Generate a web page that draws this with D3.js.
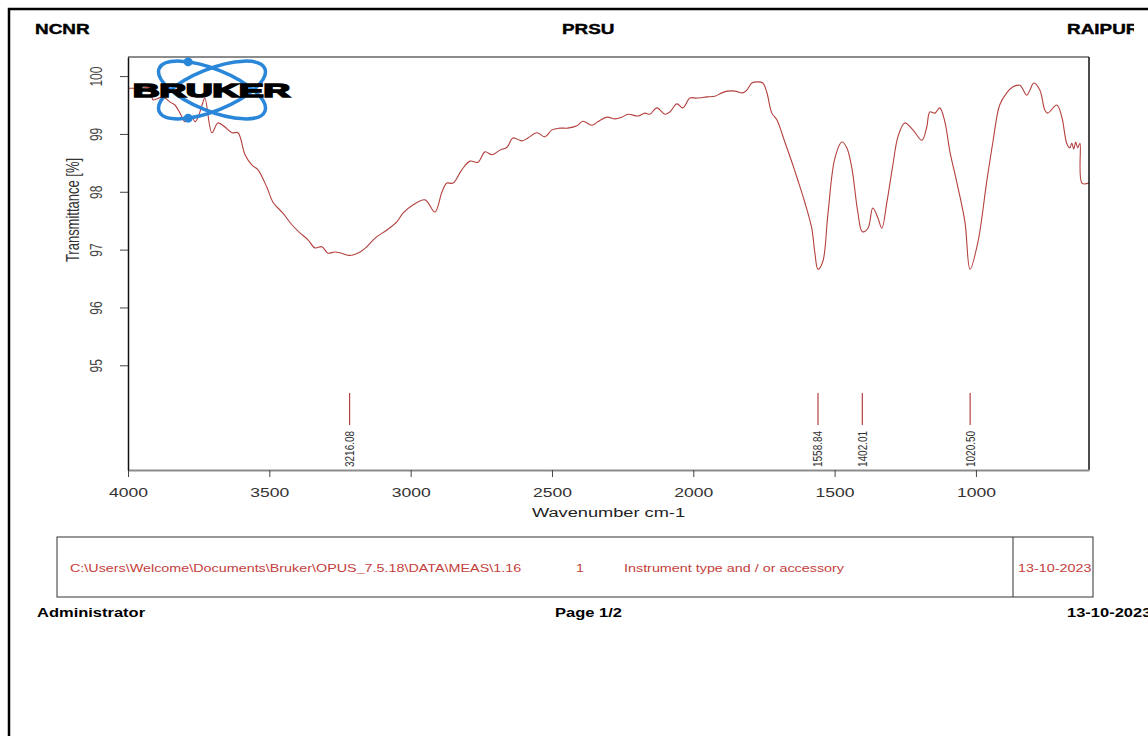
<!DOCTYPE html>
<html>
<head>
<meta charset="utf-8">
<script src="https://cdn.jsdelivr.net/npm/d3@7"></script>
<style>
  body { margin: 0; background: #fff; }
  svg { display: block; font-family: "Liberation Sans", Arial, sans-serif; }
</style>
</head>
<body>
<svg id="chart" width="1148" height="736"></svg>
<script>
// spectrum (wavenumber cm-1 / transmittance %)
const wavenumber = [
  4000, 3958, 3919, 3912, 3876, 3851, 3834, 3816, 3798, 3788,
  3774, 3763, 3752, 3738, 3728, 3703, 3682, 3657, 3632, 3611,
  3586, 3561, 3540, 3508, 3487, 3452, 3420, 3392, 3363, 3339,
  3314, 3293, 3268, 3240, 3216, 3179, 3155, 3126, 3084, 3049,
  3027, 2992, 2949, 2914, 2889, 2872, 2850, 2819, 2790, 2762,
  2737, 2712, 2684, 2659, 2638, 2606, 2585, 2553, 2525, 2500,
  2472, 2444, 2412, 2391, 2359, 2338, 2306, 2277, 2253, 2231,
  2196, 2171, 2154, 2129, 2100, 2083, 2058, 2037, 2012, 1987,
  1952, 1924, 1899, 1878, 1853, 1825, 1810, 1793, 1772, 1754,
  1740, 1722, 1704, 1676, 1651, 1630, 1605, 1581, 1570, 1559,
  1542, 1524, 1499, 1474, 1457, 1439, 1418, 1402, 1382, 1365,
  1347, 1333, 1315, 1294, 1276, 1252, 1223, 1191, 1174, 1163,
  1145, 1128, 1110, 1092, 1068, 1039, 1021, 993, 962, 940,
  916, 891, 870, 845, 820, 809, 795, 774, 756, 746,
  714, 696, 679, 668, 661, 654, 647, 640, 632, 625,
  600
];
const transmittance = [
  99.79, 99.79, 99.79, 99.59, 99.64, 99.55, 99.50, 99.36, 99.21, 99.24,
  99.29, 99.21, 99.29, 99.50, 99.62, 99.02, 99.19, 99.12, 99.02, 99.02,
  98.64, 98.46, 98.38, 98.07, 97.82, 97.63, 97.43, 97.29, 97.17, 97.03,
  97.05, 96.94, 96.96, 96.93, 96.90, 96.96, 97.05, 97.20, 97.34, 97.48,
  97.63, 97.77, 97.86, 97.65, 98.00, 98.15, 98.15, 98.38, 98.53, 98.51,
  98.69, 98.64, 98.72, 98.77, 98.93, 98.88, 98.93, 99.02, 98.95, 99.07,
  99.10, 99.10, 99.14, 99.22, 99.15, 99.21, 99.29, 99.26, 99.29, 99.34,
  99.31, 99.36, 99.34, 99.45, 99.34, 99.38, 99.52, 99.45, 99.62, 99.62,
  99.64, 99.65, 99.71, 99.74, 99.74, 99.71, 99.76, 99.88, 99.90, 99.88,
  99.72, 99.36, 99.24, 98.86, 98.51, 98.20, 97.81, 97.37, 96.95, 96.66,
  96.79, 97.60, 98.58, 98.86, 98.76, 98.41, 97.65, 97.31, 97.37, 97.72,
  97.55, 97.37, 97.82, 98.46, 98.95, 99.19, 99.07, 98.89, 99.12, 99.38,
  99.36, 99.45, 99.21, 98.69, 98.17, 97.48, 96.66, 97.13, 98.17, 98.86,
  99.50, 99.71, 99.81, 99.84, 99.67, 99.76, 99.88, 99.76, 99.41, 99.36,
  99.50, 99.29, 98.84, 98.76, 98.84, 98.74, 98.86, 98.76, 98.84, 98.15,
  98.15
];
const peakPositions = [3216.08, 1558.84, 1402.01, 1020.50];
const peakLabels = ["3216.08", "1558.84", "1402.01", "1020.50"];
const xTicks = [4000, 3500, 3000, 2500, 2000, 1500, 1000];
const yTicks = [95, 96, 97, 98, 99, 100];

const headerLabels = ["NCNR", "PRSU", "RAIPUR"];
const footerLabels = ["Administrator", "Page 1/2", "13-10-2023"];
const infoLabels = ["C:\\Users\\Welcome\\Documents\\Bruker\\OPUS_7.5.18\\DATA\\MEAS\\1.16", "1",
  "Instrument type and / or accessory", "13-10-2023"];

const W = 1148, H = 736;
const SX = 1.35; // the scanned page is stretched sideways, text too
const plot = { left: 128, right: 1089, top: 57, bottom: 470 };
const red = "#b4403e";

const svg = d3.select("#chart");

const x = d3.scaleLinear().domain([4000, 600]).range([plot.left, plot.right]);
const y = d3.scaleLinear().domain([93.19, 100.33]).range([plot.bottom, plot.top]);

// text helper: stretched horizontally like the scan
function addText(parent, str, px, py, o = {}) {
  return parent.append("text")
    .attr("transform", `translate(${px},${py}) scale(${o.sx || SX},1)` + (o.rotate ? ` rotate(${o.rotate})` : ""))
    .attr("font-size", o.size || 13)
    .attr("font-weight", o.weight || "normal")
    .attr("fill", o.fill || "#000")
    .attr("text-anchor", o.anchor || "start")
    .text(str);
}

const defs = svg.append("defs");
defs.append("clipPath").attr("id", "plotClip")
  .append("rect")
  .attr("x", plot.left).attr("y", plot.top)
  .attr("width", plot.right - plot.left).attr("height", plot.bottom - plot.top);
defs.append("clipPath").attr("id", "headClip")
  .append("rect").attr("x", 0).attr("y", 0).attr("width", 1134).attr("height", 60);

// page border (top + left)
svg.append("path")
  .attr("d", `M9,${H} V9 H${W}`)
  .attr("fill", "none").attr("stroke", "#000").attr("stroke-width", 2.5);

// header
const head = svg.append("g").attr("clip-path", "url(#headClip)");
const headX = [35, 562, 1067];
headerLabels.forEach((t, i) => addText(head, t, headX[i], 34, { size: 14, weight: "bold" })
  .attr("stroke", "#000").attr("stroke-width", 0.4));

// spectrum
const line = d3.line()
  .x((d) => x(d[0]))
  .y((d) => y(d[1]))
  .curve(d3.curveCatmullRom.alpha(0.5));

svg.append("path")
  .datum(d3.zip(wavenumber, transmittance))
  .attr("clip-path", "url(#plotClip)")
  .attr("fill", "none")
  .attr("stroke", red)
  .attr("stroke-width", 1.1)
  .attr("d", line);

// frame
svg.append("line")
  .attr("x1", plot.left).attr("x2", plot.right)
  .attr("y1", plot.top).attr("y2", plot.top)
  .attr("stroke", "#8c8c8c").attr("stroke-width", 2);
svg.append("line")
  .attr("x1", plot.right).attr("x2", plot.right)
  .attr("y1", plot.top).attr("y2", plot.bottom)
  .attr("stroke", "#111").attr("stroke-width", 1.5);

// x axis
const xAxisG = svg.append("g")
  .attr("transform", `translate(0,${plot.bottom})`)
  .call(d3.axisBottom(x).tickValues(xTicks).tickSize(7).tickSizeOuter(0).tickFormat(d3.format("d")));
xAxisG.select(".domain").attr("stroke", "#8c8c8c").attr("stroke-width", 2);
xAxisG.selectAll(".tick line").attr("stroke", "#444");
xAxisG.selectAll(".tick text")
  .attr("y", null).attr("dy", null)
  .attr("transform", `translate(0,27) scale(${SX},1)`)
  .attr("font-size", 13)
  .attr("font-family", null)
  .attr("fill", "#333");

addText(svg, "Wavenumber cm-1", (plot.left + plot.right) / 2, 517, { size: 13.5, anchor: "middle", fill: "#222" });

// y axis
const yAxisG = svg.append("g")
  .attr("transform", `translate(${plot.left},0)`)
  .call(d3.axisLeft(y).tickValues(yTicks).tickSize(8).tickSizeOuter(0));
yAxisG.select(".domain").attr("stroke", "#111").attr("stroke-width", 1.5);
yAxisG.selectAll(".tick line").attr("stroke", "#444");
yAxisG.selectAll(".tick text")
  .attr("x", null).attr("dy", null)
  .attr("text-anchor", "middle")
  .attr("transform", `translate(-26,0) scale(${SX},1) rotate(-90)`)
  .attr("font-size", 12)
  .attr("font-family", null)
  .attr("fill", "#444");

addText(svg, "Transmittance [%]", 79, 210, { size: 13, anchor: "middle", rotate: -90, fill: "#333" });

// peak picks
const peaks = svg.append("g");
peakPositions.forEach((p, i) => {
  peaks.append("line")
    .attr("x1", x(p)).attr("x2", x(p))
    .attr("y1", plot.bottom - 77).attr("y2", plot.bottom - 45)
    .attr("stroke", red).attr("stroke-width", 1.2);
  addText(peaks, peakLabels[i], x(p) + 4.5, plot.bottom - 3, { size: 10, rotate: -90, fill: "#333" });
});

// Bruker logo
const logo = svg.append("g");
const blue = "#2a86d8";
[22, -22].forEach((a) => {
  const e = logo.append("g").attr("transform", `translate(212,90) rotate(${a})`);
  e.append("ellipse").attr("rx", 57).attr("ry", 21)
    .attr("fill", "none").attr("stroke", blue).attr("stroke-width", 3.5);
  const t = a > 0 ? 235 : 125;
  e.append("circle")
    .attr("cx", 57 * Math.cos(t * Math.PI / 180))
    .attr("cy", 21 * Math.sin(t * Math.PI / 180))
    .attr("r", 4.5).attr("fill", blue);
});
logo.append("text")
  .attr("x", 133).attr("y", 97)
  .attr("font-size", 19).attr("font-weight", "bold")
  .attr("textLength", 157).attr("lengthAdjust", "spacingAndGlyphs")
  .attr("fill", "#000").attr("stroke", "#000").attr("stroke-width", 1.6)
  .text("BRUKER");

// info box
svg.append("rect")
  .attr("x", 57).attr("y", 537).attr("width", 1036).attr("height", 60)
  .attr("fill", "none").attr("stroke", "#333").attr("stroke-width", 1);
svg.append("line")
  .attr("x1", 1013).attr("x2", 1013).attr("y1", 537).attr("y2", 597)
  .attr("stroke", "#333").attr("stroke-width", 1);
const infoX = [70, 576, 624, 1018];
infoLabels.forEach((t, i) => addText(svg, t, infoX[i], 572, { size: 10.8, sx: 1.33, fill: "#c4403c" }));

// footer
const footX = [37, 555, 1067];
footerLabels.forEach((t, i) => addText(svg, t, footX[i], 617, { size: 12.5, sx: 1.32, weight: "bold" }));
</script>
</body>
</html>
